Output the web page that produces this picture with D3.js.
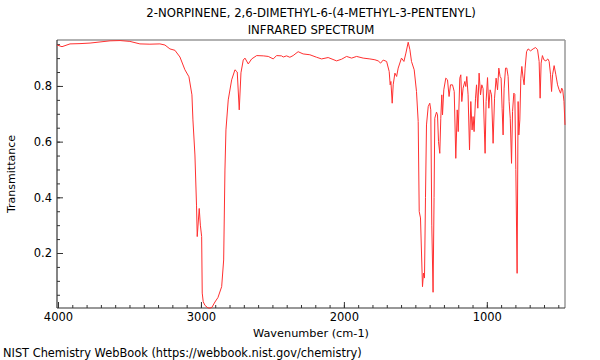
<!DOCTYPE html>
<html><head><meta charset="utf-8">
<script src="https://cdn.jsdelivr.net/npm/d3@7"></script>
<style>body{margin:0;background:#fff}svg{display:block;font-family:"DejaVu Sans",sans-serif}</style>
</head><body><svg id="c" width="600" height="360"></svg>
<script>
const titleLines = ["2-NORPINENE, 2,6-DIMETHYL-6-(4-METHYL-3-PENTENYL)", "INFRARED SPECTRUM"];
const xTickLabels = [4000, 3000, 2000, 1000];
const yTickLabels = [0.2, 0.4, 0.6, 0.8];
const wavenumber = [4007,3972,3916,3846,3776,3636,3566,3497,3427,3357,3287,3252,3217,3182,3147,3112,3084,3063,3056,3042,3031,3026,3012,3004,2995,2991,2984,2972,2951,2937,2923,2902,2881,2855,2841,2832,2825,2809,2785,2762,2746,2732,2720,2704,2692,2669,2645,2610,2564,2529,2494,2471,2436,2424,2401,2378,2355,2320,2285,2238,2191,2156,2110,2051,2016,1981,1946,1911,1865,1818,1783,1760,1743,1725,1701,1683,1676,1671,1662,1655,1643,1631,1620,1597,1580,1566,1550,1538,1527,1508,1492,1480,1473,1464,1450,1443,1436,1429,1422,1410,1399,1392,1385,1376,1369,1364,1352,1345,1338,1329,1322,1315,1310,1301,1287,1275,1264,1254,1240,1228,1217,1207,1200,1189,1182,1175,1166,1154,1147,1140,1131,1121,1112,1103,1096,1089,1079,1072,1063,1054,1044,1035,1026,1016,1012,1005,995,986,977,967,956,946,935,925,916,907,900,893,886,879,869,860,851,844,836,827,820,811,804,797,788,781,776,769,762,755,746,739,732,722,711,694,676,659,645,634,627,620,611,601,587,573,564,554,547,540,529,517,505,494,484,476,469,460,453];
const transmittance = [0.947,0.941,0.951,0.952,0.954,0.962,0.963,0.96,0.951,0.95,0.951,0.947,0.933,0.928,0.904,0.858,0.833,0.768,0.678,0.552,0.372,0.259,0.36,0.30,0.259,0.056,0.025,0.012,0.003,0.002,0.005,0.024,0.04,0.079,0.175,0.498,0.642,0.75,0.822,0.858,0.85,0.714,0.847,0.893,0.9,0.879,0.897,0.909,0.908,0.906,0.897,0.909,0.908,0.904,0.908,0.903,0.909,0.923,0.915,0.912,0.903,0.897,0.902,0.89,0.896,0.906,0.9,0.906,0.9,0.897,0.894,0.89,0.882,0.893,0.888,0.852,0.804,0.816,0.738,0.804,0.846,0.834,0.864,0.9,0.888,0.918,0.957,0.93,0.888,0.858,0.78,0.672,0.349,0.326,0.079,0.128,0.11,0.4,0.66,0.726,0.738,0.714,0.3,0.059,0.4,0.684,0.706,0.696,0.6,0.558,0.684,0.768,0.696,0.786,0.828,0.822,0.762,0.804,0.804,0.78,0.54,0.714,0.636,0.828,0.84,0.744,0.792,0.816,0.798,0.834,0.768,0.57,0.744,0.642,0.69,0.636,0.756,0.804,0.72,0.846,0.768,0.804,0.79,0.624,0.558,0.744,0.83,0.72,0.786,0.768,0.594,0.756,0.828,0.786,0.864,0.834,0.828,0.72,0.624,0.792,0.864,0.864,0.834,0.744,0.684,0.522,0.708,0.774,0.77,0.5,0.127,0.744,0.624,0.678,0.828,0.87,0.828,0.804,0.864,0.923,0.933,0.926,0.933,0.938,0.93,0.888,0.756,0.882,0.909,0.894,0.89,0.897,0.888,0.84,0.78,0.84,0.873,0.84,0.804,0.786,0.774,0.792,0.786,0.744,0.66];

const svg = d3.select("#c");
const L = 57, R = 565, T = 40, B = 308;
const x = d3.scaleLinear().domain([4007, 453]).range([L, R]);
const y = d3.scaleLinear().domain([0.0025, 0.965]).range([B, T]);

// titles
svg.selectAll("text.title").data(titleLines).join("text")
  .attr("class","title").attr("x", 311).attr("y", (d,i)=>17+i*17)
  .attr("text-anchor","middle").attr("font-size",11.7).attr("fill","#000").text(d=>d);

// frame (top/right gray)
svg.append("line").attr("x1",L).attr("x2",R).attr("y1",T).attr("y2",T).attr("stroke","#999").attr("stroke-width",1.5);
svg.append("line").attr("x1",R).attr("x2",R).attr("y1",T).attr("y2",B).attr("stroke","#999").attr("stroke-width",1.5);

// minor ticks
const xMinor = d3.range(500, 4001, 100);
const yMinor = d3.range(0.05, 0.96, 0.05);
const gx = svg.append("g").attr("transform",`translate(0,${B})`);
gx.call(d3.axisBottom(x).tickValues(xMinor).tickSize(-3).tickFormat(""))
  .call(g=>g.select(".domain").remove());
gx.append("g").call(d3.axisBottom(x).tickValues(xTickLabels).tickSize(-6).tickPadding(5).tickFormat(d3.format("d")))
  .call(g=>g.select(".domain").remove())
  .call(g=>g.selectAll("text").attr("font-size",11.5).attr("fill","#000").attr("font-family","DejaVu Sans"));
gx.selectAll(".tick line").attr("stroke","#333");

const gy = svg.append("g").attr("transform",`translate(${L},0)`);
gy.call(d3.axisLeft(y).tickValues(yMinor).tickSize(-3).tickFormat(""))
  .call(g=>g.select(".domain").remove());
gy.append("g").call(d3.axisLeft(y).tickValues(yTickLabels).tickSize(-6).tickPadding(5).tickFormat(d3.format(".1f")))
  .call(g=>g.select(".domain").remove())
  .call(g=>g.selectAll("text").attr("font-size",11.5).attr("fill","#000").attr("font-family","DejaVu Sans"));
gy.selectAll(".tick line").attr("stroke","#333");

svg.append("line").attr("x1",L).attr("x2",R).attr("y1",B).attr("y2",B).attr("stroke","#333").attr("stroke-width",1.2);
svg.append("line").attr("x1",L).attr("x2",L).attr("y1",T).attr("y2",B).attr("stroke","#333").attr("stroke-width",1.2);

// spectrum
const pts = wavenumber.map((w,i)=>[w, transmittance[i]]);
svg.append("path").datum(pts)
  .attr("d", d3.line().x(d=>x(d[0])).y(d=>y(d[1])))
  .attr("fill","none").attr("stroke","#ff3030").attr("stroke-width",1);

// axis titles
svg.append("text").attr("x",311).attr("y",337).attr("text-anchor","middle").attr("font-size",11.3).text("Wavenumber (cm-1)");
svg.append("text").attr("transform","translate(15,174) rotate(-90)").attr("text-anchor","middle").attr("font-size",11).text("Transmittance");
svg.append("text").attr("x",3).attr("y",357).attr("font-size",11.4).text("NIST Chemistry WebBook (https://webbook.nist.gov/chemistry)");
</script></body></html>
